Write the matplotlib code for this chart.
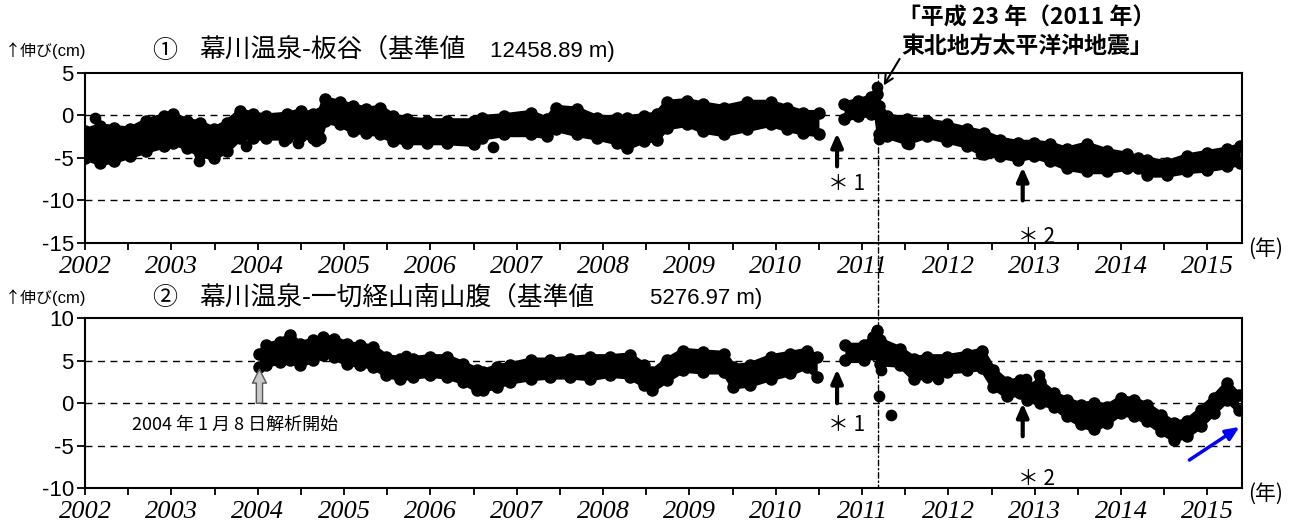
import matplotlib
matplotlib.use('Agg')
import matplotlib.pyplot as plt
from matplotlib.patches import ConnectionPatch

JP = ['Noto Sans CJK JP', 'DejaVu Sans']

# (1) 幕川温泉-板谷 : upper / lower edge of the daily scatter band (cm)
t1_a = [2002.00, 2002.17, 2002.33, 2002.52, 2002.71, 2002.91, 2003.02, 2003.18, 2003.33,
        2003.49, 2003.64, 2003.80, 2003.95, 2004.10, 2004.34, 2004.50, 2004.64, 2004.72,
        2004.78, 2004.95, 2005.10, 2005.26, 2005.42, 2005.57, 2005.73, 2005.96, 2006.19,
        2006.50, 2006.60, 2006.85, 2007.16, 2007.35, 2007.46, 2007.70, 2007.93, 2008.16,
        2008.28, 2008.47, 2008.62, 2008.74, 2008.97, 2009.16, 2009.40, 2009.67, 2009.94,
        2010.13, 2010.32, 2010.50]
hi1_a = [-1.85, -1.26, -1.45, -1.65, -0.67, -0.08, 0.10, -0.67, -0.87,
         -1.65, -0.87, 0.50, 0.10, -0.10, 0.10, 0.50, 0.10, 0.30,
         1.90, 1.50, 1.10, 0.70, 0.90, -0.08, -0.47, -0.67, -0.67,
         -0.67, -0.28, -0.08, 0.30, -0.47, 0.90, 0.70, -0.28, -0.28,
         -0.28, -0.08, 0.10, 1.50, 1.70, 1.30, 0.90, 1.50, 1.50,
         0.90, 0.30, 0.30]
lo1_a = [-5.00, -5.60, -5.40, -4.80, -4.20, -3.60, -3.20, -3.80, -4.60,
         -5.00, -4.20, -2.65, -2.65, -2.65, -2.65, -2.45, -2.65, -2.65,
         -0.67, -1.06, -1.85, -2.05, -2.25, -3.00, -3.20, -3.20, -3.20,
         -3.40, -2.65, -2.25, -2.25, -2.45, -1.65, -2.25, -2.65, -3.20,
         -3.80, -3.00, -2.85, -1.45, -1.06, -1.85, -2.25, -1.65, -1.06,
         -1.65, -2.05, -2.25]

t1_b = [2010.79, 2010.95, 2011.10, 2011.17, 2011.20, 2011.29, 2011.52, 2011.75, 2011.98,
        2012.22, 2012.41, 2012.60, 2012.80, 2012.99, 2013.18, 2013.37, 2013.60, 2013.84,
        2014.07, 2014.19, 2014.30, 2014.53, 2014.76, 2014.99, 2015.23, 2015.38]
hi1_b = [1.30, 1.70, 2.10, 2.50, 1.10, -0.08, -0.47, -0.67, -1.06,
         -1.65, -2.05, -2.85, -3.20, -3.20, -3.40, -4.00, -3.40, -4.20,
         -4.60, -5.00, -5.20, -5.60, -4.80, -4.40, -4.00, -3.60]
lo1_b = [-0.47, -0.08, 0.10, 0.10, -2.25, -2.45, -3.20, -2.45, -3.00,
         -3.60, -4.60, -4.80, -5.20, -4.80, -5.40, -6.20, -6.60, -6.60,
         -6.20, -6.20, -7.00, -7.00, -6.60, -6.40, -6.00, -5.60]

out1_t = [2002.12, 2003.32, 2003.87, 2004.30, 2004.47, 2004.68, 2006.73, 2008.24,
          2011.17, 2011.19, 2011.54, 2012.38]
out1_v = [-0.3, -5.4, -3.6, -3.0, -3.2, -3.0, -3.7, -3.4,
          3.27, -2.8, -3.4, -4.6]

# (2) 幕川温泉-一切経山南山腹
t2_a = [2004.02, 2004.10, 2004.26, 2004.37, 2004.49, 2004.64, 2004.76, 2004.88, 2005.03,
        2005.19, 2005.34, 2005.49, 2005.65, 2005.80, 2006.00, 2006.19, 2006.38, 2006.54,
        2006.61, 2006.77, 2006.92, 2007.16, 2007.39, 2007.62, 2007.85, 2008.08, 2008.31,
        2008.47, 2008.57, 2008.74, 2008.93, 2009.16, 2009.40, 2009.51, 2009.70, 2009.94,
        2010.17, 2010.36, 2010.48]
hi2_a = [5.85, 6.80, 7.20, 8.00, 7.00, 7.40, 7.80, 7.60, 7.00,
         6.80, 6.60, 5.45, 5.25, 5.25, 5.45, 5.45, 4.65, 3.90,
         3.70, 4.30, 4.50, 5.05, 5.05, 5.25, 5.45, 5.45, 5.65,
         4.50, 3.70, 5.05, 6.20, 6.00, 5.85, 4.30, 4.50, 5.45,
         5.85, 6.20, 5.45]
lo2_a = [4.30, 4.50, 4.85, 5.05, 4.50, 5.05, 5.65, 5.45, 4.65,
         4.50, 4.30, 3.30, 2.90, 3.10, 3.30, 3.10, 2.50, 1.55,
         1.55, 1.95, 2.50, 2.90, 3.10, 3.10, 2.90, 3.30, 3.10,
         2.15, 1.55, 2.70, 3.90, 3.70, 3.70, 1.95, 2.15, 2.90,
         3.50, 4.30, 3.10]

t2_b = [2010.80, 2011.02, 2011.13, 2011.17, 2011.21, 2011.44, 2011.60, 2011.75, 2011.98,
        2012.22, 2012.39, 2012.52, 2012.68, 2012.83, 2012.91, 2013.06, 2013.22, 2013.37,
        2013.53, 2013.68, 2013.84, 2014.00, 2014.15, 2014.30, 2014.46, 2014.61, 2014.76,
        2014.92, 2015.07, 2015.23, 2015.36]
hi2_b = [6.80, 6.80, 7.80, 8.55, 7.40, 6.40, 5.25, 5.45, 5.45,
         5.85, 6.20, 3.90, 2.50, 2.70, 1.95, 2.50, 1.15, 0.40,
         -0.20, 0.00, -0.40, 0.60, 0.40, -0.20, -1.35, -2.35, -2.15,
         -0.80, 0.60, 2.35, 0.95]
lo2_b = [5.05, 5.05, 5.85, 6.20, 4.65, 4.50, 2.90, 3.10, 3.70,
         3.90, 4.10, 1.95, 0.80, 1.15, 0.40, 0.00, -0.40, -1.55,
         -2.50, -3.10, -2.35, -1.15, -1.55, -2.15, -3.30, -4.30, -3.90,
         -2.70, -1.15, 0.40, -0.80]

out2_t = [2005.72, 2011.17, 2011.22, 2011.20, 2011.33, 2011.88, 2012.39, 2012.90, 2013.05]
out2_v = [5.6, 8.6, 3.9, 0.85, -1.35, 2.9, 6.0, 2.9, 3.3]

years = list(range(2002, 2016))
quake = 2011.19


def draw_band(ax, t, hi, lo):
    ax.fill_between(t, lo, hi, color='black', lw=0, zorder=3)
    for edge in (hi, lo):
        ax.plot(t, edge, color='black', lw=4, marker='o', ms=8,
                solid_joinstyle='round', solid_capstyle='round', zorder=3)


def setup_axes(ax, yticks):
    ax.set_xlim(2002, 2015.4)
    ax.set_ylim(yticks[0], yticks[-1])
    ax.set_xticks(years)
    ax.set_xticks([y + 0.5 for y in years[:-1]], minor=True)
    ax.set_xticklabels([str(y) for y in years], family='Liberation Serif',
                       style='italic', fontsize=19)
    ax.set_yticks(yticks)
    ax.set_yticklabels([str(v) for v in yticks], family='Liberation Sans', fontsize=16)
    ax.tick_params(axis='x', which='both', direction='out', length=5, width=1.3, pad=4)
    ax.tick_params(axis='y', direction='out', length=6, width=1.3, pad=2)
    for v in yticks[1:-1]:
        ax.axhline(v, color='black', lw=1, ls=(0, (5, 4)), zorder=1)
    for s in ax.spines.values():
        s.set_linewidth(1.5)


def up_arrow(ax, x, y0, y1, color='black'):
    ax.annotate('', xy=(x, y1), xytext=(x, y0),
                arrowprops=dict(arrowstyle='-|>,head_width=0.35,head_length=0.8',
                                color=color, lw=3, shrinkA=0, shrinkB=0), zorder=5)


def heading(y, num, name, ref, x_ref):
    # ↑伸び label, circled number, site name and reference length
    fig.text(0.004, y, '↑伸び', ha='left', va='center', fontsize=11.5, family=JP)
    fig.text(0.040, y, '(cm)', ha='left', va='center', fontsize=12, family='Liberation Sans')
    fig.text(0.117, y, num, ha='left', va='center', fontsize=18, family=JP)
    fig.text(0.153, y, name + '（基準値', ha='left', va='center',
             fontsize=18.5, family=JP)
    fig.text(x_ref, y, ref + ' m)', ha='left', va='center', fontsize=16,
             family='Liberation Sans')


fig = plt.figure(figsize=(13, 5.26), dpi=100)
ax1 = fig.add_axes([0.0654, 0.538, 0.890, 0.3238])
ax2 = fig.add_axes([0.0654, 0.0722, 0.890, 0.3227])

setup_axes(ax1, [-15, -10, -5, 0, 5])
setup_axes(ax2, [-10, -5, 0, 5, 10])

draw_band(ax1, t1_a, hi1_a, lo1_a)
draw_band(ax1, t1_b, hi1_b, lo1_b)
ax1.scatter(out1_t, out1_v, s=55, color='black', zorder=4)

draw_band(ax2, t2_a, hi2_a, lo2_a)
draw_band(ax2, t2_b, hi2_b, lo2_b)
ax2.scatter(out2_t, out2_v, s=55, color='black', zorder=4)

# earthquake line running through both panels
con = ConnectionPatch(xyA=(quake, 5), coordsA=ax1.transData,
                      xyB=(quake, -10), coordsB=ax2.transData,
                      ls=(0, (4, 2, 1, 2)), lw=1, color='black', zorder=2)
fig.add_artist(con)

# *1 / *2 markers
up_arrow(ax1, 2010.71, -6.0, -2.1)
up_arrow(ax1, 2012.86, -10.0, -6.1)
ax1.text(2010.82, -8.1, '＊ 1', ha='center', va='center', fontsize=15, family=JP)
ax1.text(2013.02, -14.3, '＊ 2', ha='center', va='center', fontsize=15, family=JP)

up_arrow(ax2, 2010.71, 0.0, 4.0)
up_arrow(ax2, 2012.86, -3.9, 0.0)
ax2.text(2010.82, -2.6, '＊ 1', ha='center', va='center', fontsize=15, family=JP)
ax2.text(2013.02, -8.9, '＊ 2', ha='center', va='center', fontsize=15, family=JP)

# start of analysis for line (2)
ax2.annotate('', xy=(2004.02, 4.0), xytext=(2004.02, 0.0),
             arrowprops=dict(arrowstyle='simple,head_width=1.0,head_length=1.0,tail_width=0.45',
                             fc='#c8c8c8', ec='#555555', lw=1, shrinkA=0, shrinkB=0), zorder=5)
ax2.text(2002.54, -2.55, '2004 年 1 月 8 日解析開始', ha='left', va='center',
         fontsize=13, family=JP)

# recent extension
ax2.annotate('', xy=(2015.37, -2.8), xytext=(2014.79, -6.7),
             arrowprops=dict(arrowstyle='-|>,head_width=0.35,head_length=0.8',
                             color='#0000ff', lw=2.5, shrinkA=0, shrinkB=0),
             annotation_clip=False, zorder=6)

# quake label
fig.text(0.790, 0.965, '「平成 23 年（2011 年）', ha='center', va='center',
         fontsize=16.5, fontweight='bold', family=JP)
fig.text(0.790, 0.912, '東北地方太平洋沖地震」', ha='center', va='center',
         fontsize=16.5, fontweight='bold', family=JP)
ax1.annotate('', xy=(2011.25, 3.5), xytext=(0.692, 0.888), textcoords='figure fraction',
             arrowprops=dict(arrowstyle='->,head_width=0.3,head_length=0.6',
                             color='black', lw=1.5, shrinkA=0, shrinkB=0),
             annotation_clip=False)

# panel headings
heading(0.903, '①', '幕川温泉-板谷', '12458.89', 0.377)
heading(0.433, '②', '幕川温泉-一切経山南山腹', '5276.97', 0.500)

fig.text(0.960, 0.527, '(年)', ha='left', va='center', fontsize=15, family=JP)
fig.text(0.960, 0.062, '(年)', ha='left', va='center', fontsize=15, family=JP)

fig.savefig('out.png', dpi=100)
